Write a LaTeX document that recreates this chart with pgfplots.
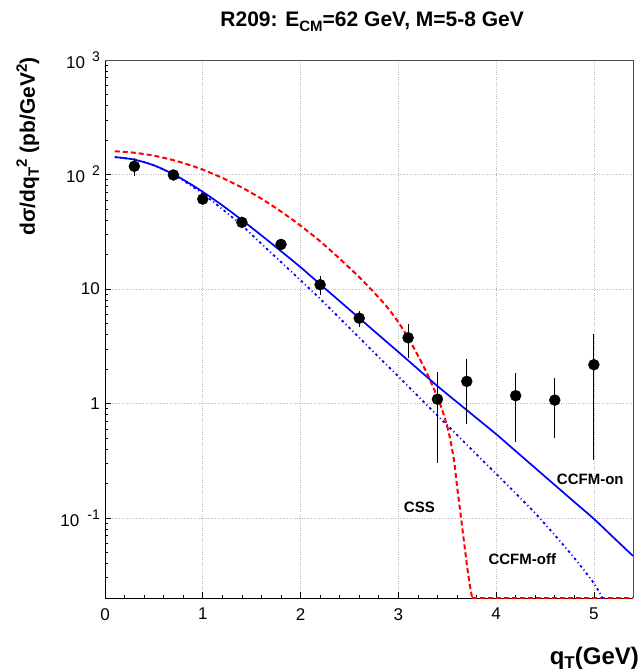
\documentclass[border=0pt]{standalone}
\usepackage{fontspec}
\setmainfont{Liberation Sans}
\usepackage{pgfplots}
\pgfplotsset{compat=1.18}
\newcommand{\tl}{\fontsize{17}{17}\selectfont}
\newcommand{\sps}[1]{\raisebox{7pt}{\fontsize{14}{14}\selectfont #1}}
\begin{document}
\begin{tikzpicture}
\useasboundingbox (0,0) rectangle (641pt,672pt);
\begin{axis}[
  at={(105pt,74pt)}, anchor=south west,
  width=528pt, height=538pt, scale only axis,
  ymode=log, xmin=0, xmax=5.4, ymin=0.02, ymax=1000,
  axis lines*=left,
  axis line style={line width=0.9pt, black},
  tick align=inside,
  xtick={0,1,2,3,4,5}, xticklabels={0,1,2,3,4,5},
  minor x tick num=4,
  ytick={0.1,1,10,100,1000},
  yticklabels={{10\hspace{8pt}\sps{-1}},{1\hspace{18pt}},{10\hspace{18pt}},{10\hspace{7pt}\sps{2}},{10\hspace{7pt}\sps{3}}},
  minor ytick={0.03,0.04,0.05,0.06,0.07,0.08,0.09,0.2,0.3,0.4,0.5,0.6,0.7,0.8,0.9,2,3,4,5,6,7,8,9,20,30,40,50,60,70,80,90,200,300,400,500,600,700,800,900},
  major tick length=6pt, minor tick length=3pt,
  tick style={black, line width=0.7pt},
  grid=major, grid style={gray!55, dotted, line width=0.6pt},
  xticklabel style={font=\tl, inner sep=0pt, anchor=north, yshift=-10pt},
  yticklabel style={font=\tl, inner sep=0pt, anchor=east, xshift=-5pt},
  title={R209: E\raisebox{-5pt}{\fontsize{15}{15}\selectfont CM}=62 GeV, M=5-8 GeV},
  title style={at={(axis description cs:0.506,1.051)}, anchor=base, inner sep=0pt, font=\bfseries\fontsize{21}{21}\selectfont},
  xlabel={q\raisebox{-4.5pt}{\fontsize{17}{17}\selectfont T}(GeV)},
  xlabel style={at={(axis description cs:1.0115,-0.123)}, anchor=base east, inner sep=0pt, font=\bfseries\fontsize{24}{24}\selectfont},
  ylabel={dσ/dq\raisebox{-4pt}{\fontsize{15}{15}\selectfont T}\raisebox{8pt}{\fontsize{15}{15}\selectfont 2} (pb/GeV\raisebox{8pt}{\fontsize{15}{15}\selectfont 2})},
  ylabel style={at={(axis description cs:-0.146,1.005)}, anchor=east, inner sep=0pt, font=\bfseries\fontsize{21}{21}\selectfont},
  clip mode=individual,
]
% CSS
\addplot[red, line width=2pt, dash pattern=on 5pt off 3pt, smooth] coordinates {
(0.1,159.6) (0.3,154.9) (0.5,145.9) (0.7,133.3) (0.9,118.3) (1.0,110.2) (1.2,93.3) (1.4,76.9) (1.6,61.4) (1.8,47.5) (2.0,35.7) (2.2,26.1) (2.4,18.4) (2.6,12.7) (2.7,10.38) (2.8,8.41) (2.9,6.70) (3.0,5.13) (3.1,3.76) (3.2,2.63) (3.3,1.78) (3.4,1.135) (3.45,0.871) (3.5,0.631) (3.525,0.513) (3.55,0.398) (3.575,0.295) (3.6,0.191) (3.627,0.126) (3.65,0.0871) (3.675,0.0589) (3.70,0.0398) (3.73,0.0263) (3.755,0.0200)
};
\addplot[red, line width=2pt, dash pattern=on 5pt off 3pt] coordinates {(3.755,0.0200) (5.4,0.0200)};
% CCFM-off
\addplot[blue, line width=1.8pt, dash pattern=on 2.5pt off 3pt on 1pt off 3pt, smooth] coordinates {
(0.1,141.9) (0.3,134.9) (0.5,120.2) (0.7,100) (0.85,83.2) (1.0,67.9) (1.2,49.8) (1.4,35.9) (1.6,24.8) (1.8,17.2) (2.0,11.9) (2.2,8.22) (2.4,5.56) (2.6,3.76) (2.8,2.54) (3.0,1.72) (3.2,1.16) (3.4,0.785) (3.6,0.531) (3.8,0.359) (4.0,0.243) (4.2,0.164) (4.4,0.110) (4.6,0.0708) (4.8,0.0447) (5.0,0.0269) (5.1,0.0191)
};
% CCFM-on
\addplot[blue, line width=1.7pt, smooth] coordinates {
(0.1,141.9) (0.3,134.9) (0.5,120.2) (0.7,100.5) (0.85,85) (1.0,70.6) (1.2,53.7) (1.4,40.0) (1.6,29.4) (1.8,21.4) (2.0,15.5) (2.2,11.0) (2.4,7.83) (2.6,5.57) (2.8,3.96) (3.0,2.82) (3.2,2.00) (3.4,1.42) (3.6,1.028) (3.8,0.745) (4.0,0.540) (4.2,0.384) (4.4,0.273) (4.6,0.194) (4.8,0.138) (5.0,0.0982) (5.2,0.0676) (5.4,0.0466)
};
% data
\addplot[only marks, mark=*, mark size=5.5pt, black,
  error bars/.cd, y dir=both, y explicit, error mark=none,
  error bar style={line width=1pt, black}]
  table[x=x, y=y, y error plus=ep, y error minus=em] {
x y ep em
0.3 118 21 21
0.7 99 5 5
1.0 61 3 3
1.4 38.2 2.5 2.5
1.8 24.5 1.5 1.5
2.2 10.9 2.0 2.0
2.6 5.56 0.85 0.9
3.1 3.75 1.16 1.25
3.4 1.09 0.80 0.79
3.7 1.56 0.87 0.90
4.2 1.17 0.67 0.71
4.6 1.07 0.59 0.57
5.0 2.18 1.84 1.86
};
\draw[gray!60!black, line width=0.8pt] (rel axis cs:0,1) -- (rel axis cs:1,1) -- (rel axis cs:1,0);
\node[font=\bfseries\fontsize{15}{15}\selectfont] at (axis cs:4.963,0.219) {CCFM-on};
\node[font=\bfseries\fontsize{15}{15}\selectfont] at (axis cs:3.215,0.123) {CSS};
\node[font=\bfseries\fontsize{15}{15}\selectfont] at (axis cs:4.268,0.0439) {CCFM-off};
\end{axis}
\end{tikzpicture}
\end{document}
